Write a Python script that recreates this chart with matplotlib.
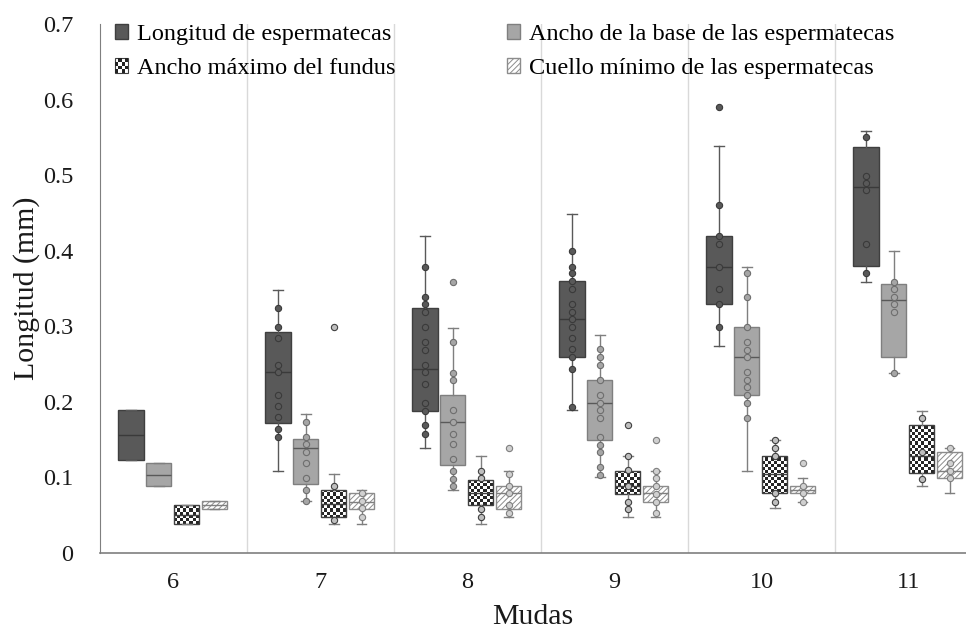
import numpy as np
import matplotlib
matplotlib.use("Agg")
import matplotlib.pyplot as plt
from matplotlib.patches import Patch, Rectangle
from matplotlib.legend_handler import HandlerPatch

plt.rcParams["font.family"] = ["Liberation Serif", "DejaVu Serif"]

mudas = ["6", "7", "8", "9", "10", "11"]
series_names = ["Longitud de espermatecas", "Ancho de la base de las espermatecas",
                "Ancho máximo del fundus", "Cuello mínimo de las espermatecas"]

# ---- Longitud de espermatecas ----
long_lo = [0.123, 0.108, 0.139, 0.189, 0.274, 0.359]
long_q1 = [0.123, 0.172, 0.188, 0.259, 0.330, 0.380]
long_med = [0.156, 0.239, 0.244, 0.310, 0.379, 0.484]
long_q3 = [0.189, 0.292, 0.324, 0.360, 0.420, 0.537]
long_hi = [0.189, 0.348, 0.420, 0.449, 0.539, 0.559]
long_pts = [[],
            [0.324, 0.299, 0.284, 0.249, 0.239, 0.209, 0.194, 0.180, 0.164, 0.154],
            [0.379, 0.339, 0.329, 0.319, 0.299, 0.279, 0.269, 0.249, 0.239, 0.224, 0.199, 0.188, 0.169, 0.158],
            [0.399, 0.379, 0.370, 0.360, 0.349, 0.329, 0.319, 0.309, 0.299, 0.285, 0.270, 0.259, 0.244, 0.193],
            [0.460, 0.420, 0.409, 0.379, 0.349, 0.329, 0.299],
            [0.550, 0.499, 0.490, 0.480, 0.409, 0.370]]
long_out = [[], [], [], [], [0.590], []]

# ---- Ancho de la base ----
base_lo = [0.088, 0.069, 0.083, 0.100, 0.109, 0.238]
base_q1 = [0.088, 0.091, 0.116, 0.149, 0.209, 0.259]
base_med = [0.103, 0.139, 0.173, 0.199, 0.259, 0.335]
base_q3 = [0.119, 0.151, 0.209, 0.229, 0.299, 0.356]
base_hi = [0.119, 0.184, 0.298, 0.289, 0.379, 0.399]
base_pts = [[],
            [0.173, 0.154, 0.144, 0.134, 0.119, 0.099, 0.083, 0.069],
            [0.279, 0.238, 0.229, 0.189, 0.173, 0.158, 0.144, 0.124, 0.109, 0.098, 0.088],
            [0.270, 0.259, 0.249, 0.229, 0.209, 0.199, 0.189, 0.179, 0.154, 0.143, 0.134, 0.114, 0.103],
            [0.370, 0.339, 0.299, 0.279, 0.269, 0.259, 0.239, 0.229, 0.219, 0.209, 0.199, 0.179],
            [0.359, 0.349, 0.339, 0.330, 0.319, 0.238]]
base_out = [[], [], [0.359], [], [], []]

# ---- Ancho máximo del fundus ----
fund_lo = [0.038, 0.038, 0.038, 0.048, 0.059, 0.089]
fund_q1 = [0.038, 0.047, 0.063, 0.078, 0.079, 0.106]
fund_med = [0.050, 0.065, 0.080, 0.088, 0.105, 0.128]
fund_q3 = [0.0635, 0.083, 0.096, 0.109, 0.128, 0.169]
fund_hi = [0.0635, 0.104, 0.128, 0.129, 0.149, 0.188]
fund_pts = [[],
            [0.089, 0.044],
            [0.109, 0.099, 0.058, 0.048],
            [0.129, 0.110, 0.088, 0.068, 0.058],
            [0.149, 0.139, 0.128, 0.079, 0.068],
            [0.179, 0.133, 0.098]]
fund_out = [[], [0.299], [], [0.169], [], []]

# ---- Cuello mínimo ----
cue_lo = [0.058, 0.038, 0.048, 0.048, 0.068, 0.079]
cue_q1 = [0.058, 0.058, 0.058, 0.068, 0.079, 0.099]
cue_med = [0.063, 0.068, 0.079, 0.079, 0.083, 0.109]
cue_q3 = [0.069, 0.079, 0.088, 0.089, 0.089, 0.133]
cue_hi = [0.069, 0.083, 0.108, 0.109, 0.099, 0.139]
cue_pts = [[],
           [0.079, 0.069, 0.059, 0.048],
           [0.104, 0.088, 0.079, 0.064, 0.053],
           [0.109, 0.099, 0.089, 0.078, 0.068, 0.053],
           [0.089, 0.079, 0.068],
           [0.139, 0.119, 0.109, 0.099]]
cue_out = [[], [], [0.139], [0.149], [0.119], []]

all_series = [
    (long_lo, long_q1, long_med, long_q3, long_hi, long_pts, long_out),
    (base_lo, base_q1, base_med, base_q3, base_hi, base_pts, base_out),
    (fund_lo, fund_q1, fund_med, fund_q3, fund_hi, fund_pts, fund_out),
    (cue_lo, cue_q1, cue_med, cue_q3, cue_hi, cue_pts, cue_out),
]

offsets = [-0.29, -0.10, 0.09, 0.28]
box_w = 0.172
styles = [
    dict(fc="#595959", ec="#3f3f3f", med="#3a3a3a", wh="#595959", pfc="#595959", pec="#3a3a3a", hatch=None),
    dict(fc="#a6a6a6", ec="#7f7f7f", med="#595959", wh="#7f7f7f", pfc="#a6a6a6", pec="#6e6e6e", hatch=None),
    dict(fc="none", ec="#404040", med="#404040", wh="#7f7f7f", pfc="#bfbfbf", pec="#404040", hatch=None),
    dict(fc="white", ec="#8c8c8c", med="#7f7f7f", wh="#7f7f7f", pfc="#d0d0d0", pec="#7f7f7f", hatch="//////"),
]

fig = plt.figure(figsize=(9.66, 6.29), dpi=100)
ax = fig.add_axes([100 / 966, 1 - 553 / 629, 866 / 966, (553 - 24) / 629])
xmin, xmax = -0.5, -0.5 + 866 / 147
ymin, ymax = 0.0, 0.7

plt.rcParams["hatch.linewidth"] = 0.7

# separators
for k in range(1, len(mudas)):
    ax.axvline(k - 0.5, color="#d9d9d9", lw=1.0, zorder=0)

# checkerboard image
ncol = int(np.ceil(866 / 3.2))
nrow = int(np.ceil(529 / 3.2))
ii, jj = np.indices((nrow, ncol))
chk = ((ii + jj) % 2).astype(float)
rgb = np.where(chk[..., None] > 0.5, np.array([0.15, 0.15, 0.15]), np.array([1.0, 1.0, 1.0]))

for s, (lo, q1, med, q3, hi, pts, out) in enumerate(all_series):
    st = styles[s]
    stats = []
    for i in range(len(mudas)):
        stats.append(dict(whislo=lo[i], q1=q1[i], med=med[i], q3=q3[i], whishi=hi[i], fliers=out[i]))
    pos = [i + offsets[s] for i in range(len(mudas))]
    res = ax.bxp(stats, positions=pos, widths=box_w, patch_artist=True, manage_ticks=False,
                 boxprops=dict(facecolor=st["fc"], edgecolor=st["ec"], linewidth=1.0),
                 medianprops=dict(color=st["med"], linewidth=1.0),
                 whiskerprops=dict(color=st["wh"], linewidth=1.0),
                 capprops=dict(color=st["wh"], linewidth=1.0),
                 flierprops=dict(marker="o", markersize=4.5, markerfacecolor=st["pfc"],
                                 markeredgecolor=st["pec"], markeredgewidth=0.8, linestyle="none"),
                 capwidths=0.065, zorder=2)
    for b in res["boxes"]:
        if st["hatch"]:
            b.set_hatch(st["hatch"])
        if s == 2:
            im = ax.imshow(rgb, extent=(xmin, xmax, ymin, ymax), aspect="auto",
                           interpolation="nearest", origin="lower", zorder=1.9)
            im.set_clip_path(b)
    for m in res["medians"]:
        m.set_zorder(2.6)
    for i in range(len(mudas)):
        if pts[i]:
            ax.plot(np.full(len(pts[i]), pos[i]), pts[i], "o", ms=4.5, mfc=st["pfc"], mec=st["pec"],
                    mew=0.8, linestyle="none", zorder=3)

ax.set_xlim(xmin, xmax)
ax.set_ylim(ymin, ymax)
ax.set_xticks(range(len(mudas)))
ax.set_xticklabels(mudas)
ax.set_yticks(np.arange(0, 0.71, 0.1))
ax.set_yticklabels(["0", "0.1", "0.2", "0.3", "0.4", "0.5", "0.6", "0.7"])
ax.tick_params(axis="both", length=0, labelsize=17.5, colors="#1a1a1a")
ax.tick_params(axis="y", pad=19)
ax.tick_params(axis="x", pad=14)
for sp in ["top", "right"]:
    ax.spines[sp].set_visible(False)
ax.spines["left"].set_color("#7f7f7f")
ax.spines["bottom"].set_color("#7f7f7f")
ax.spines["bottom"].set_linewidth(1.2)

fig.text(533 / 966, 1 - 624 / 629, "Mudas", fontsize=21.5, ha="center", va="baseline", color="#1a1a1a")
fig.text(27 / 966, 1 - 288 / 629, "Longitud (mm)", fontsize=21.5, ha="center", va="center",
         rotation=90, color="#1a1a1a")


class CheckerHandler(HandlerPatch):
    def create_artists(self, legend, orig_handle, xdescent, ydescent, width, height, fontsize, trans):
        arts = [Rectangle((-xdescent, -ydescent), width, height, facecolor="white",
                          edgecolor="#404040", lw=0.8, transform=trans)]
        n = 4
        cw, chh = width / n, height / n
        for r in range(n):
            for c in range(n):
                if (r + c) % 2 == 0:
                    arts.append(Rectangle((-xdescent + c * cw, -ydescent + r * chh), cw, chh,
                                          facecolor="#222222", edgecolor="none", transform=trans))
        return arts


h_long = Patch(facecolor="#595959", edgecolor="#3f3f3f")
h_base = Patch(facecolor="#a6a6a6", edgecolor="#7f7f7f")
h_fund = Patch(facecolor="white", edgecolor="#404040")
h_cue = Patch(facecolor="white", edgecolor="#8c8c8c", hatch="//////")
leg = fig.legend([h_long, h_fund, h_base, h_cue],
                 [series_names[0], series_names[2], series_names[1], series_names[3]],
                 ncol=2, loc="upper left", bbox_to_anchor=(93 / 966, 1 - 2 / 629),
                 frameon=False, fontsize=17.5, handlelength=0.55, handleheight=0.55,
                 handletextpad=0.35, columnspacing=4.6, labelspacing=0.55,
                 handler_map={h_fund: CheckerHandler()})

fig.savefig("out.png", dpi=100)
